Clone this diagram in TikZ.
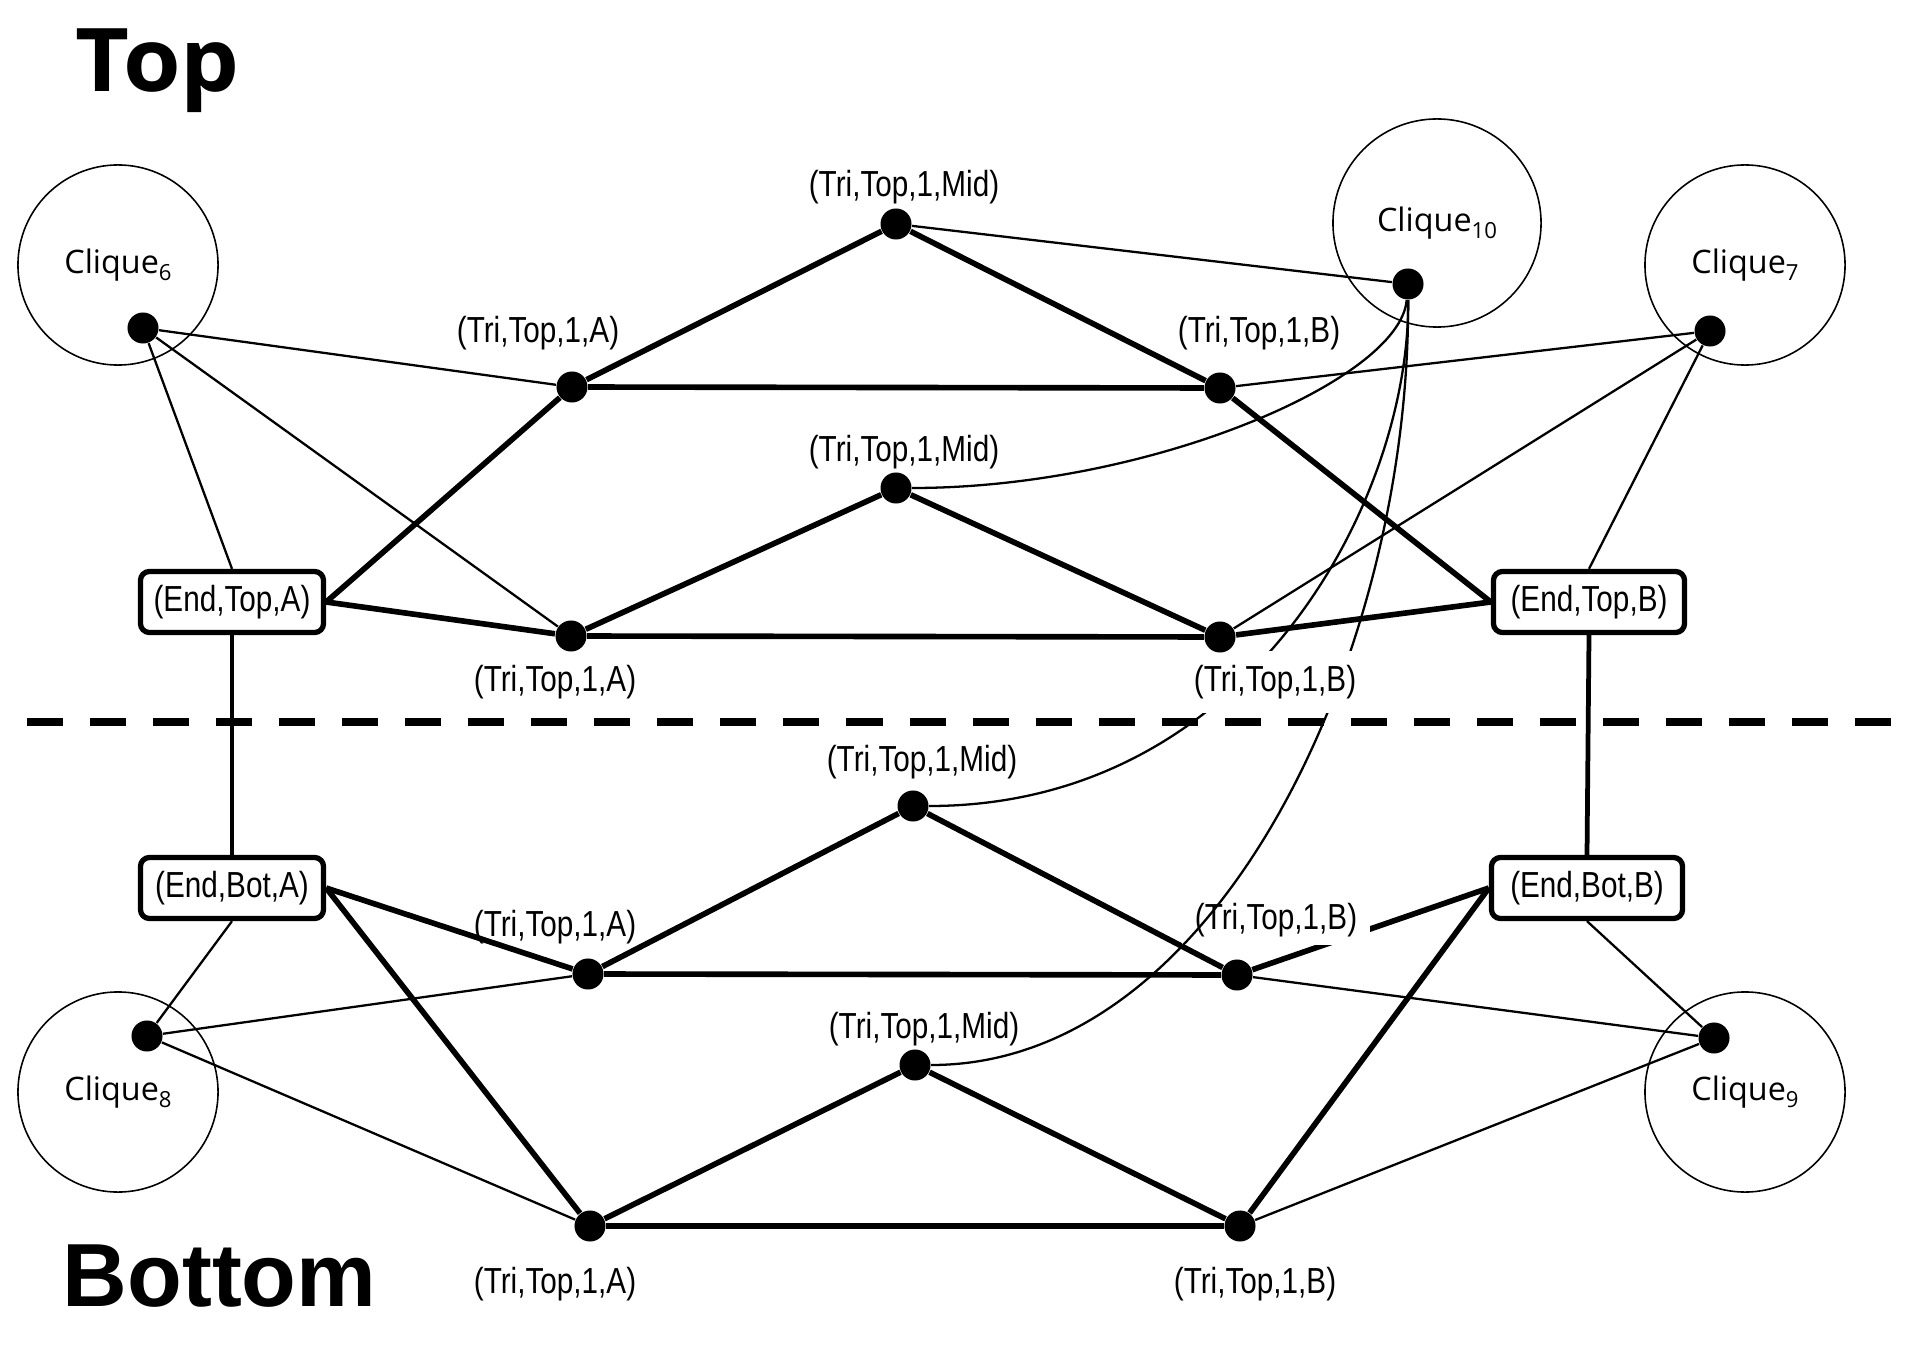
\documentclass[tikz,border=0pt]{standalone}
\usepackage{fontspec}
\setmainfont{Liberation Sans}
\newfontfamily\trifont[FakeStretch=0.82]{Liberation Sans}
\newfontfamily\cliquefont{Open Sans}
\newfontfamily\topfont[FakeStretch=1.06]{Open Sans}
\newfontfamily\botfont{Liberation Sans}
\newcommand{\clqsub}[1]{\raisebox{-2pt}{\fontsize{6.3pt}{7pt}\selectfont #1}}
\begin{document}
\begin{tikzpicture}[x=0.01cm,y=-0.01cm,
  lbl/.style={font=\trifont\fontsize{10.3pt}{12pt}\selectfont, inner sep=0pt},
  wlbl/.style={lbl, fill=white},
  vdot/.style={circle, fill=black, inner sep=0pt, minimum size=0.31cm},
  clq/.style={circle, draw, line width=0.45pt, minimum size=2cm, inner sep=0pt, font=\cliquefont\fontsize{9.2pt}{11pt}\selectfont},
  endbox/.style={draw, line width=1.5pt, rounded corners=0.09cm, minimum height=0.61cm, inner xsep=0.1cm, font=\trifont\fontsize{10.3pt}{12pt}\selectfont},
  thk/.style={line width=1.6pt},
  thn/.style={line width=0.65pt},
  vline/.style={line width=1.35pt},
  divider/.style={line width=2.3pt, dash pattern=on 0.36cm off 0.27cm}
]
\useasboundingbox (0,0) rectangle (1921,1355);

% titles
\node[anchor=base west, inner sep=0pt, font=\topfont\bfseries\fontsize{25pt}{30pt}\selectfont] (ttop) at (75,92) {Top};
\node[anchor=base west, inner sep=0pt, font=\botfont\bfseries\fontsize{25.5pt}{30pt}\selectfont] (tbot) at (62,1306) {Bottom};

% cliques
\node[clq] (c6) at (118,265) {Clique\clqsub{6}};
\node[clq, minimum size=2.08cm] (c10) at (1437,223) {Clique\clqsub{10}};
\node[clq] (c7) at (1745,265) {Clique\clqsub{7}};
\node[clq] (c8) at (118,1092) {Clique\clqsub{8}};
\node[clq] (c9) at (1745,1092) {Clique\clqsub{9}};

% end boxes
\node[endbox, minimum width=1.83cm] (eta) at (232,602) {(End,Top,A)};
\node[endbox, minimum width=1.91cm] (etb) at (1589,602) {(End,Top,B)};
\node[endbox, minimum width=1.83cm] (eba) at (232,888) {(End,Bot,A)};
\node[endbox, minimum width=1.91cm] (ebb) at (1587,888) {(End,Bot,B)};

% dots
\node[vdot] (d6) at (143,328) {};
\node[vdot] (d10) at (1408,284) {};
\node[vdot] (d7) at (1710,331) {};
\node[vdot] (d8) at (147,1036) {};
\node[vdot] (d9) at (1714,1038) {};

\node[vdot] (mid1) at (896,224) {};
\node[vdot] (a1) at (572,387) {};
\node[vdot] (b1) at (1220,388) {};
\node[vdot] (mid2) at (896,488) {};
\node[vdot] (a2) at (571,636) {};
\node[vdot] (mid3) at (913,806) {};
\node[vdot] (a3) at (588,974) {};
\node[vdot] (b3) at (1237,975) {};
\node[vdot] (mid4) at (915,1065) {};
\node[vdot] (a4) at (590,1226) {};
\node[vdot] (b4) at (1240,1226) {};

% plain labels
\node[lbl] (lmid1) at (904,187) {(Tri,Top,1,Mid)};
\node[lbl] (la1) at (538,333) {(Tri,Top,1,A)};
\node[lbl] (lb1) at (1259,333) {(Tri,Top,1,B)};
\node[lbl] (lmid2) at (904,452) {(Tri,Top,1,Mid)};
\node[lbl] (la2) at (555,682) {(Tri,Top,1,A)};
\node[lbl] (lmid3) at (922,762) {(Tri,Top,1,Mid)};
\node[lbl] (la3) at (555,927) {(Tri,Top,1,A)};
\node[lbl] (lmid4) at (924,1029) {(Tri,Top,1,Mid)};
\node[lbl] (la4) at (555,1284) {(Tri,Top,1,A)};
\node[lbl] (lb4) at (1255,1284) {(Tri,Top,1,B)};

% white label under the B2 dot (hides parts of the curves)
\coordinate (b2pos) at (1220,637);

% thin edges
\draw[thn] (d6) -- (a1);
\draw[thn] (d6) -- (eta.north);
\draw[thn] (d6) -- (a2);
\draw[thn] (mid1) -- (d10);
\draw[thn] (b1) -- (d7);
\draw[thn] (eba.south) -- (d8);
\draw[thn] (d8) -- (a3);
\draw[thn] (d8) -- (a4);
\draw[thn] (b3) -- (d9);
\draw[thn] (ebb.south) -- (d9);
\draw[thn] (b4) -- (d9);
\draw[thn] (etb.north) -- (d7);

% thick edges
\draw[thk] (mid1) -- (a1);
\draw[thk] (mid1) -- (b1);
\draw[thk] (a1) -- (b1);
\draw[thk] (a1) -- (eta.east);
\draw[thk] (b1) -- (etb.west);
\draw[thk] (mid2) -- (a2);
\draw[thk] (eta.east) -- (a2);
\draw[thk] (mid3) -- (a3);
\draw[thk] (mid3) -- (b3);
\draw[thk] (a3) -- (b3);
\draw[thk] (eba.east) -- (a3);
\draw[thk] (b3) -- (ebb.west);
\draw[thk] (eba.east) -- (a4);
\draw[thk] (b4) -- (ebb.west);
\draw[thk] (mid4) -- (a4);
\draw[thk] (mid4) -- (b4);
\draw[thk] (a4) -- (b4);
\draw[vline] (eta.south) -- (eba.north);
\draw[vline] (etb.south) -- (ebb.north);

% label that hides part of an edge
\node[wlbl, inner xsep=0.13cm, inner ysep=0.08cm] (lb3) at (1276,920) {(Tri,Top,1,B)};

% curves from Clique10
\draw[thn] (d10) .. controls (1400,380) and (1150,488) .. (mid2);
\draw[thn] (d10) .. controls (1410,500) and (1250,806) .. (mid3);
\draw[thn] (d10) .. controls (1410,650) and (1220,1065) .. (mid4);

\node[wlbl, inner xsep=0.05cm, inner ysep=0.14cm] (lb2) at (1275,682) {(Tri,Top,1,B)};

% B2 dot and its edges, drawn above the white label
\node[vdot] (b2) at (b2pos) {};
\draw[thn] (b2) -- (d7);
\draw[thk] (mid2) -- (b2);
\draw[thk] (a2) -- (b2);
\draw[thk] (b2) -- (etb.west);

% divider
\coordinate (dl) at (27,722);
\coordinate (dr) at (1893,722);
\draw[divider] (dl) -- (dr);
\end{tikzpicture}
\end{document}
